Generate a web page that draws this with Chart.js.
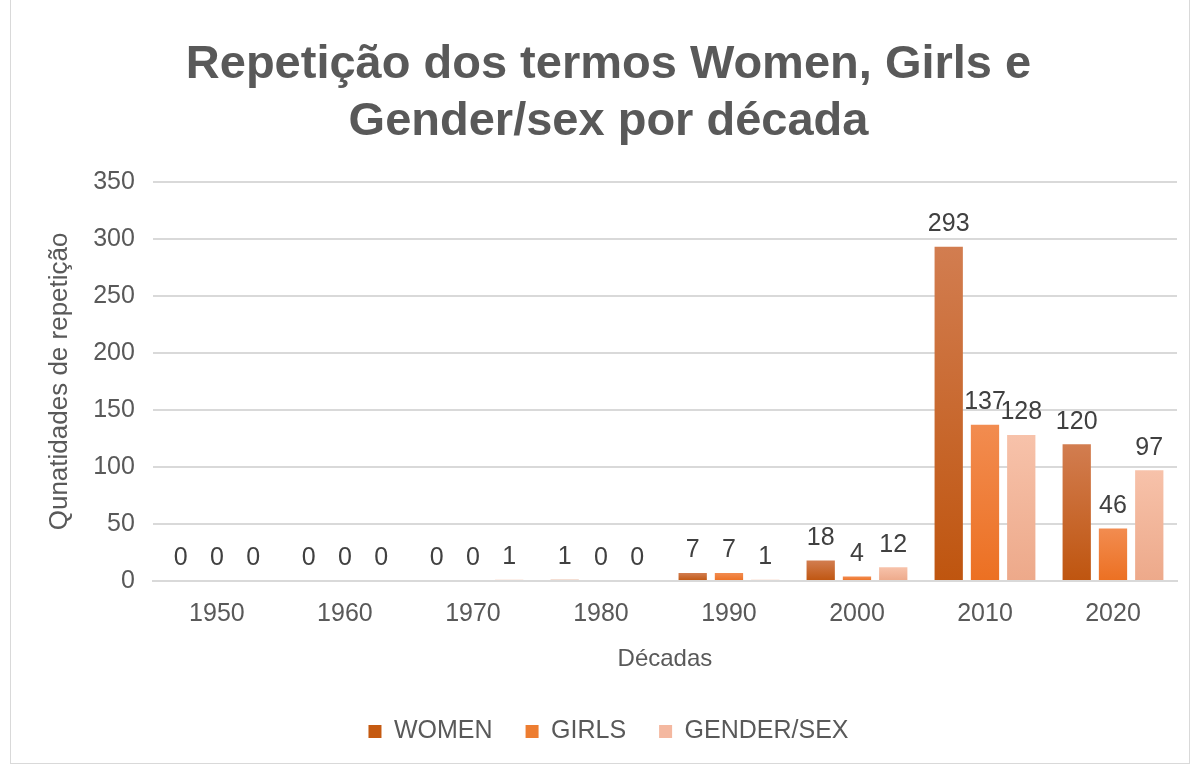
<!DOCTYPE html>
<html lang="pt">
<head>
    <meta charset="UTF-8">
    <title>Repetição dos termos por década</title>
    <script src="https://cdn.jsdelivr.net/npm/chart.js"></script>
    <style>
        html, body { margin: 0; padding: 0; background: #fff; }
        #wrap { width: 1203px; height: 767px; position: relative; }
        #frame { position: absolute; left: 10px; top: -2px; width: 1180px; height: 766px; border: 1px solid #d9d9d9; box-sizing: border-box; }
        canvas { position: absolute; left: 0; top: 0; }
    </style>
</head>
<body>
<div id="wrap">
    <div id="frame"></div>
    <canvas id="chart" width="1203" height="767"></canvas>
</div>
<script>
    // Dados
    const decades = ['1950', '1960', '1970', '1980', '1990', '2000', '2010', '2020'];
    const women = [0, 0, 0, 1, 7, 18, 293, 120];
    const girls = [0, 0, 0, 0, 7, 4, 137, 46];
    const genderSex = [0, 0, 1, 0, 1, 12, 128, 97];

    const textColor = '#595959';
    const fontFamily = '"Liberation Sans", Arial, sans-serif';

    // gradiente vertical para cada barra (mais claro em cima)
    function barGradient(top, bottom) {
        return function (ctx) {
            const chart = ctx.chart;
            if (!chart.chartArea || ctx.parsed === undefined) return bottom;
            const y = chart.scales.y;
            const y0 = y.getPixelForValue(ctx.parsed.y);
            const y1 = y.getPixelForValue(0);
            if (y1 - y0 < 1) return bottom;
            const g = chart.ctx.createLinearGradient(0, y0, 0, y1);
            g.addColorStop(0, top);
            g.addColorStop(1, bottom);
            return g;
        };
    }

    const valueLabels = {
        id: 'valueLabels',
        afterDatasetsDraw(chart) {
            const c = chart.ctx;
            c.save();
            c.font = '25px ' + fontFamily;
            c.fillStyle = '#404040';
            c.textAlign = 'center';
            c.textBaseline = 'bottom';
            chart.data.datasets.forEach((ds, i) => {
                chart.getDatasetMeta(i).data.forEach((bar, j) => {
                    c.fillText(ds.data[j], bar.x, bar.y - 10);
                });
            });
            c.restore();
        }
    };

    new Chart(document.getElementById('chart'), {
        type: 'bar',
        data: {
            labels: decades,
            datasets: [
                { label: 'WOMEN', data: women, backgroundColor: barGradient('#D27D50', '#BF550F'), legendColor: '#C55A11' },
                { label: 'GIRLS', data: girls, backgroundColor: barGradient('#F28C50', '#EC7022'), legendColor: '#ED7D31' },
                { label: 'GENDER/SEX', data: genderSex, backgroundColor: barGradient('#F7C2AA', '#EDA98A'), legendColor: '#F4B8A0' }
            ]
        },
        options: {
            responsive: false,
            animation: false,
            categoryPercentage: 0.85,
            barPercentage: 0.78,
            layout: { padding: { left: 40, right: 26, top: 0, bottom: 13 } },
            scales: {
                y: {
                    min: 0,
                    max: 350,
                    ticks: { stepSize: 50, color: textColor, font: { family: fontFamily, size: 25 }, padding: 18 },
                    grid: { color: '#d9d9d9', lineWidth: 2, drawTicks: false },
                    border: { display: false },
                    title: { display: true, text: 'Qunatidades de repetição', color: textColor, font: { family: fontFamily, size: 26 }, padding: { bottom: 0 } }
                },
                x: {
                    ticks: { color: textColor, font: { family: fontFamily, size: 25 }, padding: 18 },
                    grid: { display: false, drawTicks: false },
                    border: { color: '#d9d9d9', width: 2 },
                    title: { display: true, text: 'Décadas', color: textColor, font: { family: fontFamily, size: 24, lineHeight: 1 }, padding: { top: 0, bottom: 15 } }
                }
            },
            plugins: {
                title: {
                    display: true,
                    text: ['Repetição dos termos Women, Girls e', 'Gender/sex por década'],
                    color: textColor,
                    font: { family: fontFamily, size: 47, weight: 'bold', lineHeight: 1.2 },
                    padding: { top: 37, bottom: 32 }
                },
                legend: {
                    position: 'bottom',
                    labels: {
                        color: textColor,
                        font: { family: fontFamily, size: 25 },
                        boxWidth: 13,
                        boxHeight: 13,
                        padding: 33,
                        generateLabels(chart) {
                            return chart.data.datasets.map((ds, i) => ({
                                text: ds.label,
                                fillStyle: ds.legendColor,
                                strokeStyle: ds.legendColor,
                                lineWidth: 0,
                                fontColor: textColor,
                                datasetIndex: i
                            }));
                        }
                    }
                },
                tooltip: { enabled: false }
            }
        },
        plugins: [valueLabels]
    });
</script>
</body>
</html>
